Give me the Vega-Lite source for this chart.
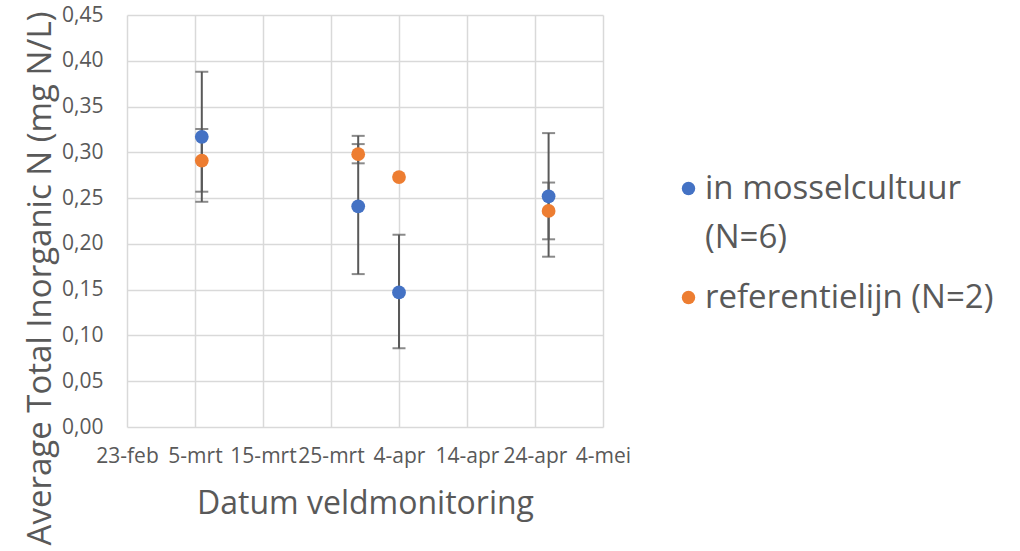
{
  "$schema": "https://vega.github.io/schema/vega-lite/v6.json",
  "width": 476,
  "height": 412,
  "autosize": "none",
  "padding": {"left": 127, "top": 15, "right": 417, "bottom": 124},
  "background": "white",
  "config": {
    "font": "Open Sans",
    "view": {"stroke": null},
    "locale": {
      "number": {"decimal": ",", "thousands": ".", "grouping": [3], "currency": ["€ ", ""]},
      "time": {
        "dateTime": "%a %e %B %Y %X",
        "date": "%d-%m-%Y",
        "time": "%H:%M:%S",
        "periods": ["AM", "PM"],
        "days": ["zondag", "maandag", "dinsdag", "woensdag", "donderdag", "vrijdag", "zaterdag"],
        "shortDays": ["zo", "ma", "di", "wo", "do", "vr", "za"],
        "months": ["januari", "februari", "maart", "april", "mei", "juni", "juli", "augustus", "september", "oktober", "november", "december"],
        "shortMonths": ["jan", "feb", "mrt", "apr", "mei", "jun", "jul", "aug", "sep", "okt", "nov", "dec"]
      }
    },
    "style": {"guide-label": {"lineHeight": 49}}
  },
  "data": {
    "values": [
      {"serie": "in mosselcultuur (N=6)", "datum": "2021-03-06T00:00:00", "gem": 0.317, "lo": 0.246, "hi": 0.388},
      {"serie": "referentielijn (N=2)", "datum": "2021-03-06T00:00:00", "gem": 0.291, "lo": 0.257, "hi": 0.3255},
      {"serie": "in mosselcultuur (N=6)", "datum": "2021-03-29T00:00:00", "gem": 0.241, "lo": 0.167, "hi": 0.318},
      {"serie": "referentielijn (N=2)", "datum": "2021-03-29T00:00:00", "gem": 0.298, "lo": 0.288, "hi": 0.309},
      {"serie": "in mosselcultuur (N=6)", "datum": "2021-04-04T00:00:00", "gem": 0.147, "lo": 0.086, "hi": 0.210},
      {"serie": "referentielijn (N=2)", "datum": "2021-04-04T00:00:00", "gem": 0.273, "lo": null, "hi": null},
      {"serie": "in mosselcultuur (N=6)", "datum": "2021-04-26T00:00:00", "gem": 0.252, "lo": 0.186, "hi": 0.321},
      {"serie": "referentielijn (N=2)", "datum": "2021-04-26T00:00:00", "gem": 0.236, "lo": 0.205, "hi": 0.267}
    ]
  },
  "encoding": {
    "x": {
      "field": "datum",
      "type": "temporal",
      "scale": {"domain": [{"year": 2021, "month": 2, "date": 23}, {"year": 2021, "month": 5, "date": 4}]},
      "axis": {
        "values": [
          {"year": 2021, "month": 2, "date": 23},
          {"year": 2021, "month": 3, "date": 5},
          {"year": 2021, "month": 3, "date": 15},
          {"year": 2021, "month": 3, "date": 25},
          {"year": 2021, "month": 4, "date": 4},
          {"year": 2021, "month": 4, "date": 14},
          {"year": 2021, "month": 4, "date": 24},
          {"year": 2021, "month": 5, "date": 4}
        ],
        "format": "%-d-%b",
        "title": "Datum veldmonitoring",
        "titleFontSize": 32,
        "titleFontWeight": "normal",
        "titleColor": "#595959",
        "titleBaseline": "middle",
        "titleY": 76,
        "labelFontSize": 21,
        "labelColor": "#595959",
        "labelPadding": 18,
        "labelOverlap": false,
        "labelFlush": false,
        "ticks": false,
        "domain": false,
        "grid": true,
        "gridColor": "#d9d9d9",
        "gridWidth": 1.5
      }
    },
    "y": {
      "type": "quantitative",
      "scale": {"domain": [0, 0.45], "nice": false}
    }
  },
  "layer": [
    {
      "mark": {"type": "rule", "color": "#595959", "strokeWidth": 2},
      "encoding": {
        "y": {
          "field": "lo",
          "type": "quantitative",
          "scale": {"domain": [0, 0.45], "nice": false},
          "axis": {
            "values": [0, 0.05, 0.1, 0.15, 0.2, 0.25, 0.3, 0.35, 0.4, 0.45],
            "format": ".2f",
            "title": "Average Total Inorganic N (mg N/L)",
            "titleFontSize": 33,
            "titleFontWeight": "normal",
            "titleColor": "#595959",
            "titleAngle": -90,
            "titleAlign": "center",
            "titleBaseline": "middle",
            "titleX": -87,
            "titleY": 263,
            "titleLimit": 700,
            "labelFontSize": 21,
            "labelColor": "#595959",
            "labelPadding": 24,
            "ticks": false,
            "domain": false,
            "grid": true,
            "gridColor": "#d9d9d9",
            "gridWidth": 1.5
          }
        },
        "y2": {"field": "hi"}
      }
    },
    {
      "mark": {"type": "tick", "orient": "horizontal", "color": "#595959", "thickness": 2, "size": 13},
      "encoding": {"y": {"field": "lo", "type": "quantitative"}}
    },
    {
      "mark": {"type": "tick", "orient": "horizontal", "color": "#595959", "thickness": 2, "size": 13},
      "encoding": {"y": {"field": "hi", "type": "quantitative"}}
    },
    {
      "mark": {"type": "point", "filled": true, "opacity": 1, "size": 190},
      "encoding": {
        "y": {"field": "gem", "type": "quantitative"},
        "color": {
          "field": "serie",
          "type": "nominal",
          "scale": {"domain": ["in mosselcultuur (N=6)", "referentielijn (N=2)"], "range": ["#4472C4", "#ED7D31"]},
          "legend": {
            "title": null,
            "orient": "none",
            "legendX": 545,
            "legendY": 157,
            "padding": 0,
            "symbolType": "circle",
            "symbolSize": 180,
            "symbolStrokeWidth": 0,
            "labelFontSize": 33,
            "labelColor": "#595959",
            "labelOffset": 0,
            "labelLimit": 400,
            "rowPadding": 26,
            "labelExpr": "datum.label == 'in mosselcultuur (N=6)' ? ['in mosselcultuur', '(N=6)'] : datum.label"
          }
        }
      }
    }
  ]
}
